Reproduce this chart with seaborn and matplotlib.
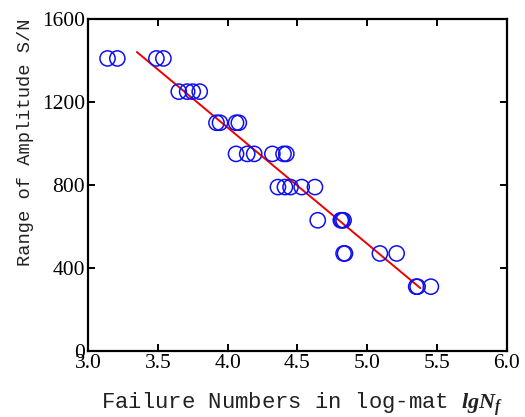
import matplotlib
matplotlib.use("Agg")
import matplotlib.pyplot as plt
import seaborn as sns
import pandas as pd

# data
lgNf = [3.14, 3.21, 3.49, 3.54,
        3.65, 3.71, 3.75, 3.80,
        3.92, 3.945, 4.06, 4.08,
        4.06, 4.14, 4.19, 4.32, 4.40, 4.42,
        4.36, 4.41, 4.45, 4.53, 4.625,
        4.645, 4.81, 4.82, 4.83,
        4.83, 4.84, 5.09, 5.21,
        5.35, 5.36, 5.455]
amplitude = [1410, 1410, 1410, 1410,
             1250, 1250, 1250, 1250,
             1100, 1100, 1100, 1100,
             950, 950, 950, 950, 950, 950,
             790, 790, 790, 790, 790,
             630, 630, 630, 630,
             470, 470, 470, 470,
             310, 310, 310]
fit_x = [3.35, 5.38]
fit_y = [1441, 303]

x_ticks = [3.0, 3.5, 4.0, 4.5, 5.0, 5.5, 6.0]
y_ticks = [0, 400, 800, 1200, 1600]

sns.set_style("ticks")
plt.rcParams['font.family'] = ['Liberation Serif', 'DejaVu Serif']
plt.rcParams['mathtext.fontset'] = 'custom'
plt.rcParams['mathtext.it'] = 'Liberation Serif:italic:bold'
plt.rcParams['mathtext.rm'] = 'Liberation Serif'

fig = plt.figure(figsize=(5.25, 4.17), dpi=100)
ax = fig.add_axes([0.1676, 0.1583, 0.7981, 0.7961])

df = pd.DataFrame({"x": lgNf, "y": amplitude})
sns.scatterplot(data=df, x="x", y="y", ax=ax, marker="o", s=120,
                facecolors="none", edgecolor="#1010ee", linewidth=1.1, zorder=3)
sns.lineplot(x=fit_x, y=fit_y, ax=ax, color="#ee0000", linewidth=1.4, zorder=2)

ax.set_xlim(3.0, 6.0)
ax.set_ylim(0, 1600)
ax.set_xticks(x_ticks)
ax.set_xticklabels([f"{v:.1f}" for v in x_ticks])
ax.set_yticks(y_ticks)
ax.set_yticklabels([str(v) for v in y_ticks])

for s in ax.spines.values():
    s.set_visible(True)
    s.set_linewidth(1.6)
    s.set_color("black")

ax.tick_params(direction="in", top=True, right=True, length=5, width=1.4,
               labelsize=15.5, colors="black", pad=2)

ax.set_xlabel("Failure Numbers in log-mat $\\mathit{lgN_f}$",
              fontfamily=["Liberation Mono"], fontsize=16, color="#222222")
ax.xaxis.set_label_coords(0.51, -0.118)
ax.set_ylabel("Range of Amplitude S/N", fontfamily=["Liberation Mono"],
              fontsize=13.5, color="#222222")
ax.yaxis.set_label_coords(-0.128, 0.63)
ax.grid(False)

fig.savefig("out.png", dpi=100)
